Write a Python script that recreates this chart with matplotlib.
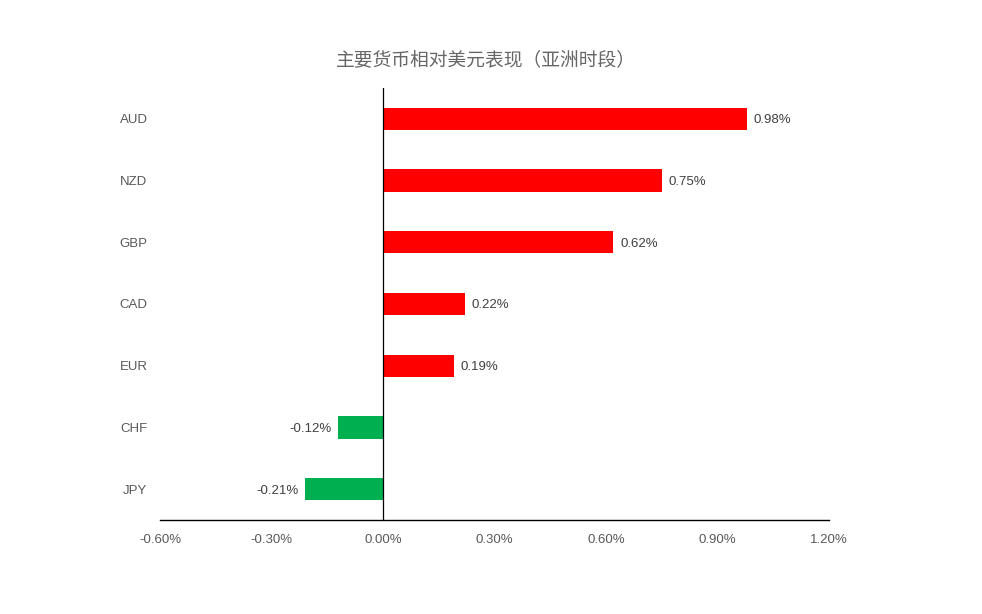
import matplotlib.pyplot as plt
from matplotlib.ticker import FuncFormatter

plt.rcParams['font.family'] = ['Liberation Sans', 'Noto Sans CJK SC', 'DejaVu Sans']

currencies = ['AUD', 'NZD', 'GBP', 'CAD', 'EUR', 'CHF', 'JPY']
changes = [0.98, 0.75, 0.62, 0.22, 0.19, -0.12, -0.21]
title = '主要货币相对美元表现（亚洲时段）'

fig = plt.figure(figsize=(9.82, 6.14), dpi=100)
ax = fig.add_axes([160 / 982, 94 / 614, 669 / 982, 526 / 614 - 94 / 614])

pos = list(range(len(currencies)))[::-1]
colors = ['#ff0000' if v > 0 else '#00b050' for v in changes]
ax.barh(pos, changes, height=0.36, color=colors)

for y, v in zip(pos, changes):
    if v > 0:
        ax.text(v + 0.018, y, f'{v:.2f}%', va='center_baseline', ha='left', fontsize=9.5, color='#404040')
    else:
        ax.text(v - 0.018, y, f'{v:.2f}%', va='center_baseline', ha='right', fontsize=9.5, color='#404040')

ax.set_xlim(-0.6, 1.2)
ax.set_ylim(-0.5, len(currencies) - 0.5)
ax.set_xticks([-0.6, -0.3, 0, 0.3, 0.6, 0.9, 1.2])
ax.xaxis.set_major_formatter(FuncFormatter(lambda x, p: f'{x:.2f}%'))
ax.set_yticks(pos)
ax.set_yticklabels(currencies)
ax.tick_params(axis='x', length=0, pad=10, labelsize=9.5, labelcolor='#595959')
ax.tick_params(axis='y', length=0, pad=9, labelsize=9.5, labelcolor='#595959')
for lbl in ax.get_yticklabels():
    lbl.set_verticalalignment('center_baseline')

for s in ['top', 'right', 'left']:
    ax.spines[s].set_visible(False)
ax.spines['bottom'].set_color('black')
ax.spines['bottom'].set_linewidth(1)
ax.axvline(0, color='black', linewidth=0.9)

fig.text(0.495, 1 - 60 / 614, title, ha='center', va='center', fontsize=13.5,
         color='#666666', family=['Noto Sans CJK SC', 'DejaVu Sans'])

fig.savefig('out.png', dpi=100)
